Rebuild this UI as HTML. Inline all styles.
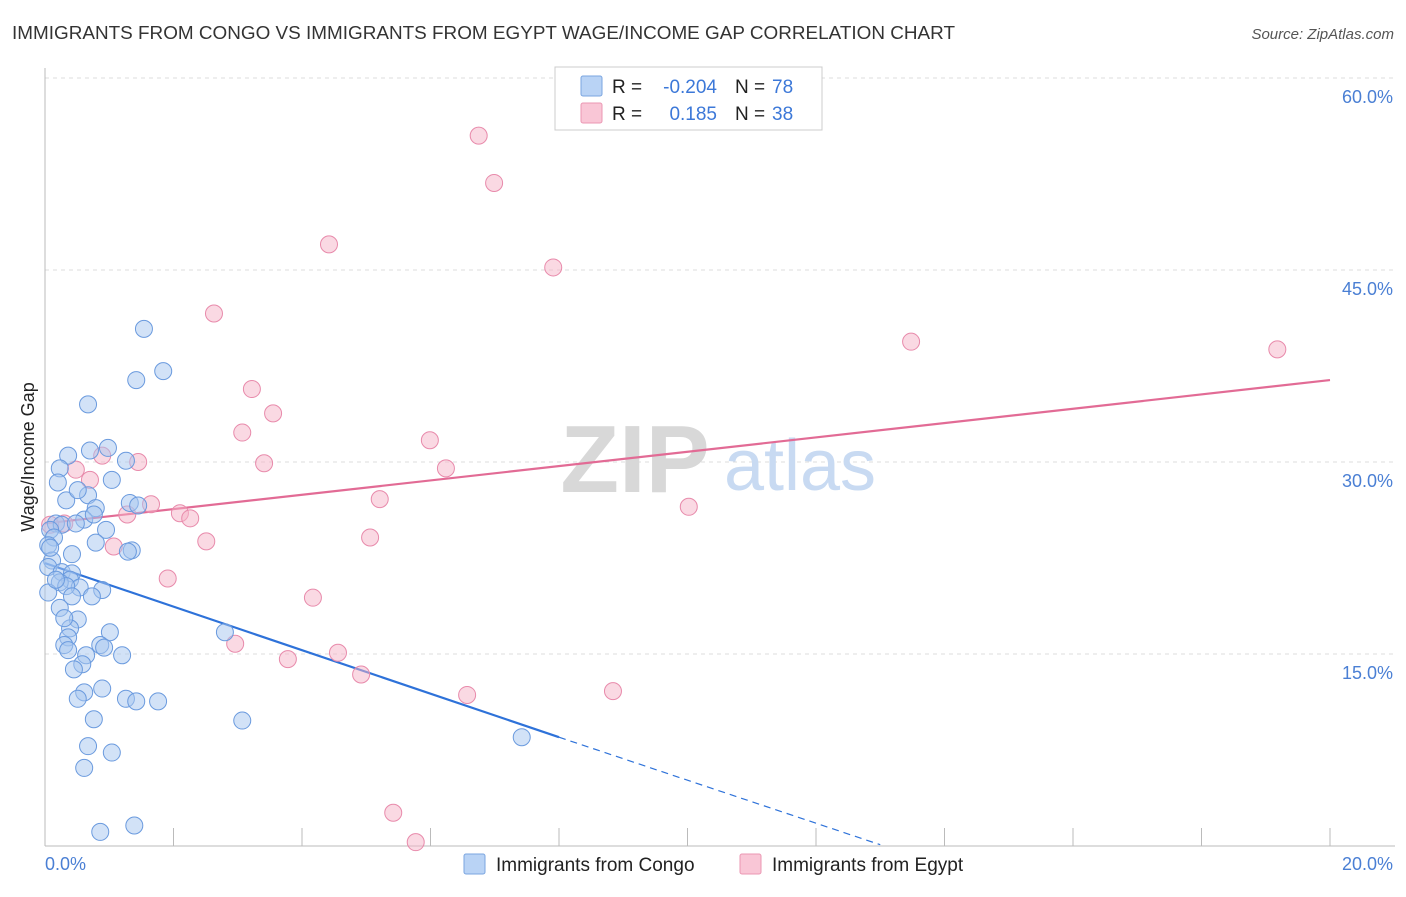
<!DOCTYPE html>
<html><head><meta charset="utf-8"><style>
body{margin:0;background:#fff;font-family:"Liberation Sans",sans-serif;}
svg text{font-family:"Liberation Sans",sans-serif;}
</style></head><body>
<svg width="1406" height="892" viewBox="0 0 1406 892" xmlns="http://www.w3.org/2000/svg">
<text x="12" y="39" font-size="18" fill="#333" textLength="943" lengthAdjust="spacingAndGlyphs">IMMIGRANTS FROM CONGO VS IMMIGRANTS FROM EGYPT WAGE/INCOME GAP CORRELATION CHART</text>
<text x="1394" y="39" font-size="15" fill="#555" font-style="italic" text-anchor="end">Source: ZipAtlas.com</text>
<g id="grid"></g>
<g>
<text x="635" y="492" font-size="96" fill="#d8d8d8" text-anchor="middle" font-family="Liberation Serif" font-weight="bold">ZIP</text>
<text x="800" y="490" font-size="72" fill="#c8daf2" text-anchor="middle">atlas</text>
</g>
<line x1="45" y1="68" x2="45" y2="846" stroke="#bbb"/>
<line x1="45" y1="846" x2="1395" y2="846" stroke="#bbb"/>
<g id="ticks"></g>
<text x="45" y="870" font-size="18" fill="#4a7fd4">0.0%</text>
<text x="1393" y="870" font-size="18" fill="#4a7fd4" text-anchor="end">20.0%</text>
<text transform="translate(34,457) rotate(-90)" font-size="18" fill="#222" text-anchor="middle">Wage/Income Gap</text>
<g id="trend"></g>
<g id="pts"></g>
<g>
<rect x="555" y="67" width="267" height="63" fill="#fff" stroke="#ccc"/>
<rect x="581" y="76" width="21" height="20" fill="#b9d3f5" stroke="#7aa5e0" rx="2"/>
<rect x="581" y="103" width="21" height="20" fill="#f9c6d6" stroke="#eb97b3" rx="2"/>
<text x="612" y="93" font-size="19" fill="#222">R =</text>
<text x="717" y="93" font-size="19" fill="#3c78d8" text-anchor="end">-0.204</text>
<text x="735" y="93" font-size="19" fill="#222">N =</text>
<text x="772" y="93" font-size="19" fill="#3c78d8">78</text>
<text x="612" y="120" font-size="19" fill="#222">R =</text>
<text x="717" y="120" font-size="19" fill="#3c78d8" text-anchor="end">0.185</text>
<text x="735" y="120" font-size="19" fill="#222">N =</text>
<text x="772" y="120" font-size="19" fill="#3c78d8">38</text>
</g>
<g>
<rect x="464" y="854" width="21" height="20" fill="#b9d3f5" stroke="#7aa5e0" rx="2"/>
<text x="496" y="871" font-size="19" fill="#222">Immigrants from Congo</text>
<rect x="740" y="854" width="21" height="20" fill="#f9c6d6" stroke="#eb97b3" rx="2"/>
<text x="772" y="871" font-size="19" fill="#222">Immigrants from Egypt</text>
</g>
</svg>
<script>
const yTicks=[15,30,45,60];
const xTickVals=[0,2,4,6,8,10,12,14,16,18,20];
const congoX=[1.54,1.84,1.42,0.67,0.98,0.70,0.36,1.26,0.23,1.04,0.20,0.67,1.32,0.33,0.51,1.45,0.79,0.61,0.76,0.17,0.26,0.48,0.95,0.08,0.14,0.79,0.05,1.35,1.29,0.42,0.11,0.05,0.26,0.42,0.39,0.23,0.54,0.33,0.89,0.05,0.73,0.42,0.23,0.51,0.39,1.01,0.36,0.86,0.30,0.36,0.92,0.64,1.20,0.58,0.45,2.80,0.89,0.61,0.51,1.26,1.42,1.76,0.76,3.07,0.67,1.04,0.61,7.42,0.86,1.39,0.08,0.17,0.30];
const congoY=[40.4,37.1,36.4,34.5,31.1,30.9,30.5,30.1,29.5,28.6,28.4,27.4,26.8,27.0,27.8,26.6,26.4,25.5,25.9,25.2,25.1,25.2,24.7,24.7,24.1,23.7,23.5,23.1,23.0,22.8,22.3,21.8,21.4,21.3,20.8,20.6,20.2,20.3,20.0,19.8,19.5,19.5,18.6,17.7,17.0,16.7,16.3,15.7,15.7,15.3,15.5,14.9,14.9,14.2,13.8,16.7,12.3,12.0,11.5,11.5,11.3,11.3,9.9,9.8,7.8,7.3,6.1,8.5,1.1,1.6,23.3,20.8,17.8];
const egyptX=[6.75,6.99,4.42,7.91,2.63,13.48,19.18,3.22,3.55,3.07,5.99,6.24,3.41,1.45,0.89,0.48,1.65,2.10,2.26,1.28,5.21,0.30,0.08,2.51,5.06,1.07,1.91,4.17,2.96,4.56,3.78,4.92,6.57,8.84,10.02,5.42,5.77,0.70];
const egyptY=[55.5,51.8,47.0,45.2,41.6,39.4,38.8,35.7,33.8,32.3,31.7,29.5,29.9,30.0,30.5,29.4,26.7,26.0,25.6,25.9,27.1,25.2,25.1,23.8,24.1,23.4,20.9,19.4,15.8,15.1,14.6,13.4,11.8,12.1,26.5,2.6,0.3,28.6];
const congoTrend=[[0,22.1],[8.0,8.5]];
const congoTrendExt=[[8.0,8.5],[13.0,0.1]];
const egyptTrend=[[0,25.2],[20,36.4]];
const NS="http://www.w3.org/2000/svg";
const sx=v=>45+v*64.25, sy=v=>846-v*12.8;
function mk(t,a,p){const e=document.createElementNS(NS,t);for(const k in a)e.setAttribute(k,a[k]);p.appendChild(e);return e;}
const grid=document.getElementById('grid');
mk('line',{x1:45,y1:78,x2:1395,y2:78,stroke:'#ddd','stroke-dasharray':'4,4'},grid);
yTicks.forEach(v=>{
 const l=mk('line',{x1:45,y1:sy(v),x2:1395,y2:sy(v),stroke:'#ddd','stroke-dasharray':'4,4'},grid);
 
 
 const t=mk('text',{x:1393,y:sy(v)+25,'font-size':18,fill:'#4a7fd4','text-anchor':'end'},grid);
 t.textContent=v.toFixed(1)+'%';
 
 
});
const ticks=document.getElementById('ticks');
xTickVals.forEach(v=>{
 const l=mk('line',{x1:sx(v),y1:828,x2:sx(v),y2:846,stroke:'#bbb'},ticks);
 
 
});
const tr=document.getElementById('trend');
function line(seg,col,dash,name){
 const l=mk('line',{x1:sx(seg[0][0]),y1:sy(seg[0][1]),x2:sx(seg[1][0]),y2:sy(seg[1][1]),stroke:col,'stroke-width':dash?1.2:2.2},tr);
 if(dash)l.setAttribute('stroke-dasharray','7,5');
 
 
}
const pts=document.getElementById('pts');
function dots(xs,ys,fill,stroke,name){
 xs.forEach((x,i)=>{
  const c=mk('circle',{cx:sx(x),cy:sy(ys[i]),r:8.5,fill:fill,'fill-opacity':0.5,stroke:stroke,'stroke-width':1},pts);
  
  
 });
}
dots(egyptX,egyptY,'#f5b3c8','#e88aab','egypt-point');
dots(congoX,congoY,'#a6c6f0','#6a9ade','congo-point');
line(egyptTrend,'#e26b95',false,'egypt-trend-line');
line(congoTrend,'#2e72d9',false,'congo-trend-line');
line(congoTrendExt,'#2e72d9',true,'congo-trend-extension');
</script>
</body></html>
